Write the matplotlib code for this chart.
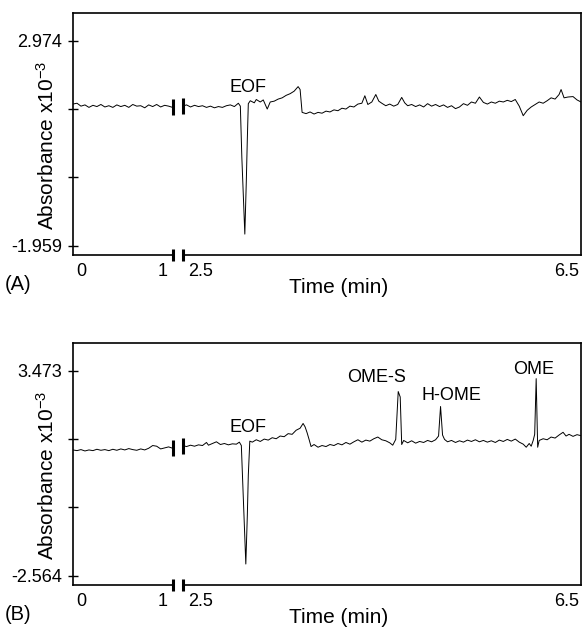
import numpy as np
import matplotlib
matplotlib.use('Agg')
import matplotlib.pyplot as plt

# electropherograms, absorbance x10^-3 vs time (min); axis broken between 1 and 2.5 min
t_early = [0.00, 0.04, 0.08, 0.12, 0.16, 0.20, 0.24, 0.28, 0.32, 0.36,
           0.40, 0.44, 0.48, 0.52, 0.56, 0.60, 0.64, 0.68, 0.72, 0.76,
           0.80, 0.84, 0.88, 0.92, 0.96, 1.00]

abs_a_early = [1.45, 1.47, 1.40, 1.43, 1.37, 1.42, 1.39, 1.44, 1.38, 1.41,
               1.37, 1.43, 1.39, 1.42, 1.37, 1.44, 1.40, 1.41, 1.36, 1.43,
               1.39, 1.44, 1.38, 1.42, 1.40, 1.37]

abs_b_early = [1.14, 1.12, 1.15, 1.11, 1.14, 1.12, 1.16, 1.13, 1.15, 1.12,
               1.16, 1.13, 1.17, 1.14, 1.18, 1.15, 1.13, 1.17, 1.14, 1.19,
               1.27, 1.25, 1.17, 1.20, 1.23, 1.19]

t_a_late = [2.50, 2.54, 2.58, 2.62, 2.66, 2.70, 2.74, 2.78, 2.82, 2.86,
            2.90, 2.94, 2.98, 3.02, 3.06, 3.08, 3.095, 3.125, 3.14, 3.15,
            3.16, 3.18, 3.22, 3.24, 3.28, 3.31, 3.35, 3.38, 3.42, 3.46,
            3.50, 3.54, 3.58, 3.62, 3.66, 3.68, 3.70, 3.74, 3.78, 3.82,
            3.86, 3.90, 3.94, 3.98, 4.02, 4.06, 4.10, 4.14, 4.18, 4.22,
            4.26, 4.30, 4.33, 4.36, 4.40, 4.44, 4.47, 4.50, 4.54, 4.58,
            4.62, 4.66, 4.70, 4.73, 4.76, 4.80, 4.84, 4.88, 4.92, 4.96,
            5.00, 5.04, 5.08, 5.12, 5.16, 5.20, 5.24, 5.28, 5.32, 5.36,
            5.40, 5.44, 5.48, 5.52, 5.56, 5.60, 5.64, 5.68, 5.72, 5.76,
            5.80, 5.84, 5.88, 5.92, 5.96, 6.00, 6.04, 6.08, 6.12, 6.16,
            6.20, 6.24, 6.28, 6.30, 6.33, 6.37, 6.42, 6.46, 6.50]

abs_a_late = [1.40, 1.43, 1.38, 1.42, 1.39, 1.41, 1.37, 1.40, 1.36, 1.39,
              1.37, 1.41, 1.43, 1.39, 1.47, 1.40, 0.17, -1.68, -0.40, 0.60,
              1.46, 1.53, 1.48, 1.56, 1.50, 1.55, 1.33, 1.50, 1.52, 1.57,
              1.60, 1.66, 1.70, 1.76, 1.87, 1.80, 1.25, 1.22, 1.26, 1.21,
              1.25, 1.23, 1.28, 1.26, 1.31, 1.29, 1.35, 1.33, 1.40, 1.38,
              1.45, 1.47, 1.65, 1.44, 1.50, 1.68, 1.52, 1.47, 1.41, 1.45,
              1.40, 1.44, 1.61, 1.48, 1.41, 1.44, 1.39, 1.43, 1.38, 1.46,
              1.40, 1.44, 1.39, 1.43, 1.37, 1.41, 1.34, 1.38, 1.46, 1.42,
              1.50, 1.47, 1.62, 1.49, 1.45, 1.50, 1.47, 1.52, 1.50, 1.54,
              1.51, 1.56, 1.40, 1.17, 1.30, 1.38, 1.44, 1.50, 1.47, 1.53,
              1.60, 1.57, 1.68, 1.80, 1.60, 1.62, 1.63, 1.55, 1.50]

t_b_late = [2.50, 2.54, 2.58, 2.62, 2.66, 2.70, 2.74, 2.76, 2.80, 2.84,
            2.88, 2.92, 2.96, 3.00, 3.04, 3.07, 3.09, 3.105, 3.135, 3.15,
            3.16, 3.175, 3.20, 3.24, 3.28, 3.32, 3.36, 3.40, 3.44, 3.48,
            3.52, 3.56, 3.60, 3.64, 3.68, 3.71, 3.73, 3.75, 3.77, 3.79,
            3.82, 3.86, 3.90, 3.94, 3.98, 4.02, 4.06, 4.10, 4.14, 4.18,
            4.22, 4.26, 4.30, 4.34, 4.38, 4.42, 4.46, 4.50, 4.54, 4.58,
            4.61, 4.64, 4.665, 4.685, 4.70, 4.72, 4.76, 4.80, 4.84, 4.88,
            4.92, 4.96, 5.00, 5.04, 5.07, 5.09, 5.11, 5.13, 5.16, 5.20,
            5.24, 5.28, 5.32, 5.36, 5.40, 5.44, 5.48, 5.52, 5.56, 5.60,
            5.64, 5.68, 5.72, 5.76, 5.80, 5.84, 5.88, 5.92, 5.95, 5.98,
            6.00, 6.02, 6.035, 6.05, 6.065, 6.08, 6.12, 6.16, 6.20, 6.24,
            6.28, 6.32, 6.35, 6.38, 6.42, 6.46, 6.50]

abs_b_late = [1.27, 1.24, 1.28, 1.25, 1.29, 1.27, 1.36, 1.28, 1.33, 1.38,
              1.30, 1.33, 1.29, 1.32, 1.31, 1.37, 1.27, 0.10, -2.22, -0.80,
              0.40, 1.40, 1.37, 1.44, 1.39, 1.46, 1.43, 1.50, 1.47, 1.55,
              1.53, 1.62, 1.60, 1.72, 1.78, 1.92, 1.82, 1.65, 1.45, 1.24,
              1.30, 1.22, 1.27, 1.24, 1.30, 1.27, 1.33, 1.29, 1.36, 1.31,
              1.38, 1.44, 1.37, 1.43, 1.40, 1.47, 1.52, 1.44, 1.41, 1.35,
              1.28, 1.45, 2.86, 2.70, 1.30, 1.42, 1.35, 1.41, 1.34, 1.39,
              1.36, 1.42, 1.38, 1.44, 1.55, 2.42, 1.58, 1.45, 1.38, 1.42,
              1.36, 1.41, 1.37, 1.43, 1.39, 1.44, 1.38, 1.42, 1.37, 1.41,
              1.36, 1.43, 1.39, 1.45, 1.40, 1.46, 1.37, 1.31, 1.22, 1.33,
              1.25, 1.42, 1.60, 3.24, 1.22, 1.42, 1.47, 1.44, 1.52, 1.49,
              1.58, 1.66, 1.55, 1.60, 1.54, 1.59, 1.56]

yticks_a = [2.974, 1.330, -0.315, -1.959]
yticks_b = [3.473, 1.461, -0.551, -2.564]

BREAK_LO, BREAK_HI, GAP = 1.0, 2.5, 0.1


def to_u(t):
    # squeeze out the broken part of the time axis
    t = np.asarray(t, dtype=float)
    return np.where(t <= BREAK_LO, t, t - (BREAK_HI - BREAK_LO) + GAP)


plt.rcParams['font.family'] = ['Liberation Sans', 'DejaVu Sans']
plt.rcParams['mathtext.default'] = 'regular'
plt.rcParams['axes.unicode_minus'] = False

fig = plt.figure(figsize=(5.82, 6.32), dpi=100)
ax_a = fig.add_axes([73 / 582, 1 - 255 / 632, 508 / 582, 242 / 632])
ax_b = fig.add_axes([73 / 582, 1 - 585 / 632, 508 / 582, 242 / 632])


def draw_panel(ax, a_early, t_late, a_late, ylim, yticks, letter):
    ax.plot(to_u(t_early), a_early, color='k', lw=0.7)
    ax.plot(to_u(t_late), a_late, color='k', lw=0.7)
    # break marks on the trace
    ax.plot(to_u([t_early[-1], t_late[0]]), [a_early[-1], a_late[0]], ls='none',
            marker='|', ms=11, mew=2.2, color='k')

    u_end = float(to_u(6.5))
    ax.set_xlim(0, u_end)
    ax.set_ylim(*ylim)
    ax.set_yticks(yticks)
    ax.set_yticklabels([f'{yticks[0]:.3f}', '', '', f'{yticks[-1]:.3f}'])
    ax.tick_params(axis='y', direction='inout', length=7.2, width=1.0, pad=4.3, labelsize=13)
    ax.set_xticks([])

    for s in ['left', 'top', 'right']:
        ax.spines[s].set_linewidth(1.2)
    ax.spines['bottom'].set_visible(False)

    # broken bottom axis
    xt = ax.get_xaxis_transform()
    ax.plot([0, BREAK_LO], [0, 0], transform=xt, color='k', lw=1.2, clip_on=False)
    ax.plot([BREAK_LO + GAP, u_end], [0, 0], transform=xt, color='k', lw=1.2, clip_on=False)
    ax.plot([BREAK_LO, BREAK_LO + GAP], [0, 0], transform=xt, ls='none', marker='|',
            ms=8, mew=2.2, color='k', clip_on=False)

    for lab, t, dx in [('0', 0, 8), ('1', 1.0, -10), ('2.5', 2.5, 18), ('6.5', 6.5, -14)]:
        ax.annotate(lab, xy=(float(to_u(t)), 0), xycoords=xt, xytext=(dx, -8),
                    textcoords='offset pixels', ha='center', va='top', fontsize=13)

    ax.set_ylabel('Absorbance x10$^{-3}$', fontsize=15)
    ax.yaxis.set_label_coords(-0.0305, 0.4545)
    ax.text(0.5236, -0.157, 'Time (min)', transform=ax.transAxes, ha='center',
            va='baseline', fontsize=15)
    ax.text(-0.1339, -0.1446, letter, transform=ax.transAxes, ha='left',
            va='baseline', fontsize=14.5)


draw_panel(ax_a, abs_a_early, t_a_late, abs_a_late, (-2.183, 3.642), yticks_a, '(A)')
draw_panel(ax_b, abs_b_early, t_b_late, abs_b_late, (-2.838, 4.290), yticks_b, '(B)')

ax_a.text(float(to_u(3.16)), 1.84, 'EOF', ha='center', va='center', fontsize=13)
ax_b.text(float(to_u(3.16)), 1.79, 'EOF', ha='center', va='center', fontsize=13)
ax_b.text(float(to_u(4.45)), 3.27, 'OME-S', ha='center', va='center', fontsize=13)
ax_b.text(float(to_u(5.195)), 2.74, 'H-OME', ha='center', va='center', fontsize=13)
ax_b.text(float(to_u(6.02)), 3.50, 'OME', ha='center', va='center', fontsize=13)

fig.savefig('out.png', dpi=100)
